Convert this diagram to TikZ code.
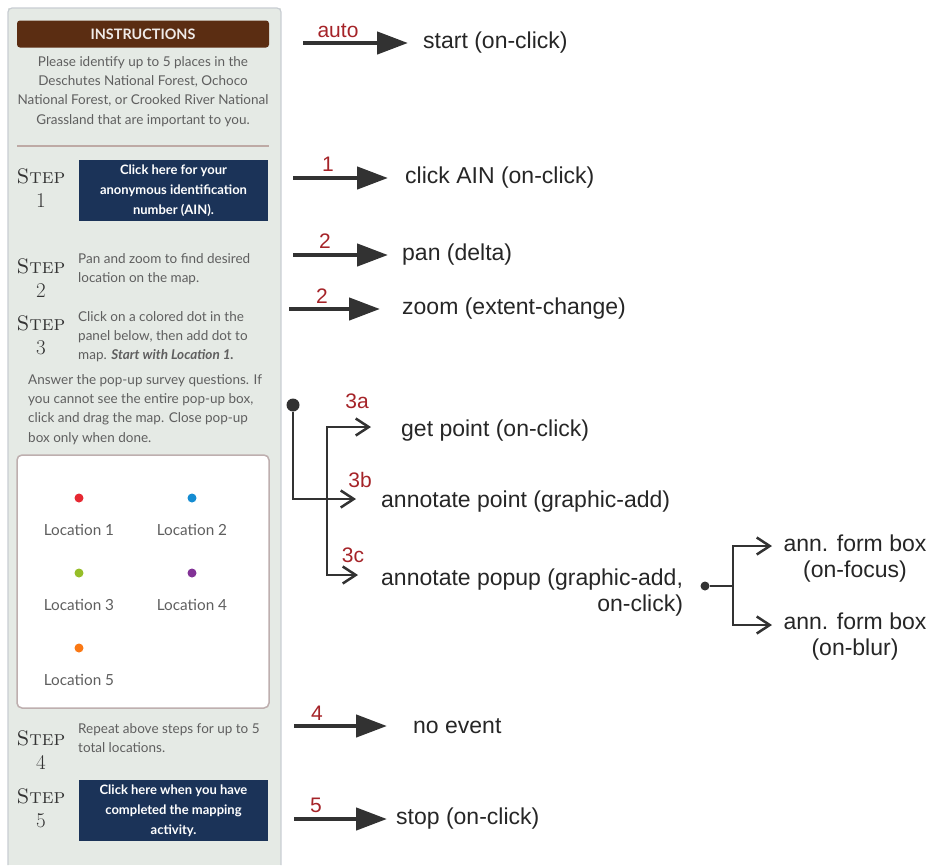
\documentclass[tikz,border=0pt]{standalone}
\usepackage{fontspec}
\newfontfamily\arialfont{Liberation Sans}
\newfontfamily\uifont{Lato}
\usetikzlibrary{arrows.meta, positioning}

\definecolor{panelbg}{RGB}{229,234,229}
\definecolor{panelline}{RGB}{200,205,210}
\definecolor{brownbar}{RGB}{91,45,18}
\definecolor{sepline}{RGB}{190,170,165}
\definecolor{locline}{RGB}{190,175,175}
\definecolor{navybtn}{RGB}{27,51,88}
\definecolor{uigray}{RGB}{95,95,95}
\definecolor{evred}{RGB}{165,35,40}
\definecolor{arrgray}{RGB}{50,50,50}
\definecolor{locred}{RGB}{230,40,50}
\definecolor{locblue}{RGB}{20,140,210}
\definecolor{locgreen}{RGB}{150,190,40}
\definecolor{locpurple}{RGB}{130,50,150}
\definecolor{locorange}{RGB}{250,120,20}

\tikzset{
  uitext/.style={font=\uifont\fontsize{13.5}{19.3}\selectfont, text=uigray, inner sep=0pt},
  steplbl/.style={font=\fontsize{21}{24.5}\selectfont, text=black!80, align=center, inner sep=0pt, anchor=north},
  hdrbar/.style={rectangle, rounded corners=3pt, fill=brownbar, minimum width=252pt, minimum height=27pt,
    text=white!90!brownbar, font=\uifont\bfseries\fontsize{14.4}{14.4}\selectfont},
  btn/.style={rectangle, fill=navybtn, minimum width=189pt, minimum height=61pt, text=white,
    align=center, inner sep=0pt, font=\uifont\bfseries\fontsize{13}{19.8}\selectfont},
  locbox/.style={rectangle, rounded corners=5pt, draw=locline, line width=1.5pt,
    fill=white, minimum width=252pt, minimum height=253pt},
  locdot/.style={circle, inner sep=0pt, minimum size=9pt},
  loctext/.style={font=\uifont\fontsize{15.3}{15.3}\selectfont, text=uigray, inner sep=0pt},
  evt/.style={font=\arialfont\fontsize{23}{26}\selectfont, text=black!85, inner sep=0pt},
  evnum/.style={font=\arialfont\fontsize{21}{21}\selectfont, text=evred, inner sep=0pt},
  bigarr/.style={-{Triangle[length=31pt,width=22pt]}, line width=4.5pt, draw=arrgray},
  thinarr/.style={-{Straight Barb[length=13pt,width=17pt]}, line width=2.5pt, draw=arrgray},
  brline/.style={line width=2.5pt, draw=arrgray},
  bigdot/.style={circle, fill=arrgray, inner sep=0pt, minimum size=13pt},
  smalldot/.style={circle, fill=arrgray, inner sep=0pt, minimum size=9pt}
}

\begin{document}
\begin{tikzpicture}[x=1pt,y=-1pt]
\useasboundingbox (0,0) rectangle (931,865);

% panel of the web page
\fill[panelbg] (8,8) rectangle (281,865);
\draw[panelline, line width=1.2pt, rounded corners=4pt] (8,865) -- (8,8) -- (281,8) -- (281,865);

\node[hdrbar] (hdr) at (143,34) {INSTRUCTIONS};
\node[uitext, align=center, anchor=north] (intro) at (143,56)
  {Please identify up to 5 places in the\\Deschutes National Forest, Ochoco\\National Forest, or Crooked River National\\Grassland that are important to you.};
\draw[line width=1.5pt, sepline] (17,146) -- (269,146);

% steps
\node[steplbl] (st1) at (41,168) {\textsc{Step}\\1};
\node[btn] (btn1) at (173.5,190.5) {Click here for your\\anonymous identification\\number (AIN).};

\node[steplbl] (st2) at (41,258) {\textsc{Step}\\2};
\node[uitext, align=left, anchor=north west] (tx2) at (78,253) {Pan and zoom to find desired\\location on the map.};

\node[steplbl] (st3) at (41,315) {\textsc{Step}\\3};
\node[uitext, align=left, anchor=north west] (tx3) at (78,311)
  {Click on a colored dot in the\\panel below, then add dot to\\map. \textbf{\textit{Start with Location 1.}}};
\node[uitext, align=left, anchor=north west] (tx3b) at (28,374)
  {Answer the pop-up survey questions. If\\you cannot see the entire pop-up box,\\click and drag the map. Close pop-up\\box only when done.};

\node[locbox] (locs) at (143,581.5) {};
\foreach \x/\y/\c/\n in {79/498/locred/1, 192/498/locblue/2, 79/573/locgreen/3, 192/573/locpurple/4, 79/648/locorange/5} {
  \node[locdot, fill=\c] (dot\n) at (\x,\y) {};
  \node[loctext] (loc\n) at (\x,\y+32) {Location \n};
}

\node[steplbl] (st4) at (41,730) {\textsc{Step}\\4};
\node[uitext, align=left, anchor=north west] (tx4) at (78,723) {Repeat above steps for up to 5\\total locations.};

\node[steplbl] (st5) at (41,788) {\textsc{Step}\\5};
\node[btn] (btn5) at (173.5,810.5) {Click here when you have\\completed the mapping\\activity.};

% events
\node[evt, anchor=west] (ev0) at (423,43) {start (on-click)};
\node[evt, anchor=west] (ev1) at (405,178) {click AIN (on-click)};
\node[evt, anchor=west] (ev2) at (402,255) {pan (delta)};
\node[evt, anchor=west] (ev2b) at (402,309) {zoom (extent-change)};
\node[evt, anchor=west] (ev3a) at (401,431) {get point (on-click)};
\node[evt, anchor=west] (ev3b) at (381,502) {annotate point (graphic-add)};
\node[evt, anchor=north west, align=right] (ev3c) at (381,569) {annotate popup (graphic-add,\\on-click)};
\node[evt, anchor=north, align=center] (fm1) at (855,535) {ann. form box\\(on-focus)};
\node[evt, anchor=north, align=center] (fm2) at (855,613) {ann. form box\\(on-blur)};
\node[evt, anchor=west] (ev4) at (413,726) {no event};
\node[evt, anchor=west] (ev5) at (396,819) {stop (on-click)};

\coordinate (s0) at (303,43);
\coordinate (s1) at (293,178);
\coordinate (s2) at (293,255);
\coordinate (s2b) at (289,309);
\coordinate (s4) at (294,726);
\coordinate (s5) at (294,819);

\draw[bigarr, shorten >=15pt] (s0) -- (ev0);
\draw[bigarr, shorten >=17pt] (s1) -- (ev1);
\draw[bigarr, shorten >=14pt] (s2) -- (ev2);
\draw[bigarr, shorten >=22pt] (s2b) -- (ev2b);
\draw[bigarr, shorten >=26pt] (s4) -- (ev4);
\draw[bigarr, shorten >=9pt] (s5) -- (ev5);

\node[evnum] (n0) at (338,31) {auto};
\node[evnum] (n1) at (328,164) {1};
\node[evnum] (n2) at (325,241) {2};
\node[evnum] (n2b) at (322,296) {2};
\node[evnum] (n4) at (317,713) {4};
\node[evnum] (n5) at (316,805) {5};

% step 3 branches
\node[bigdot] (d3) at (293,405) {};
\coordinate (b3) at (327,499);
\coordinate (t3a) at (371,427);
\coordinate (t3b) at (356,499);
\coordinate (t3c) at (358,575);
\draw[brline] (d3) |- (b3);
\draw[thinarr] (b3) |- (t3a);
\draw[thinarr] (b3) -- (t3b);
\draw[thinarr] (b3) |- (t3c);
\node[evnum] (n3a) at (357,401) {3a};
\node[evnum] (n3b) at (360,480) {3b};
\node[evnum] (n3c) at (353,555) {3c};

% popup form box
\node[smalldot] (dp) at (705,586) {};
\coordinate (bp) at (733,586);
\coordinate (tp1) at (772,546);
\coordinate (tp2) at (772,625);
\draw[brline] (dp) -- (bp);
\draw[thinarr] (bp) |- (tp1);
\draw[thinarr] (bp) |- (tp2);

\end{tikzpicture}
\end{document}
